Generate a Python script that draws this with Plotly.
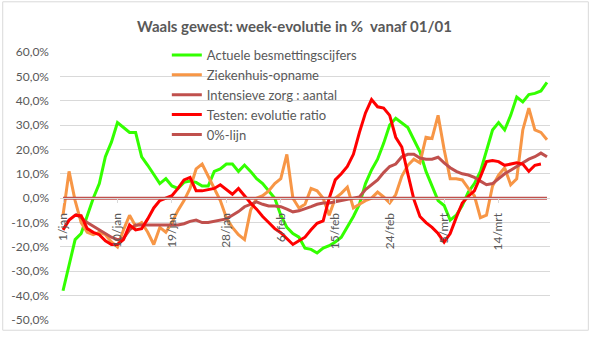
import plotly.graph_objects as go

# ---- categories (dates 1/jan .. 22/mrt) ----
months = [("jan", 31), ("feb", 28), ("mrt", 22)]
categories = [f"{d}/{m}" for m, n in months for d in range(1, n + 1)]
xtick_labels = categories[::9]

# ---- series (percent) ----
besmetting = [-38, -28, -17, -14.5, -7, 0, 6, 17, 23, 31,
              29, 27, 27, 17, 13.5, 10, 6, 8, 5, 4,
              6.5, 7, 6.5, 5, 5, 11, 12, 14, 14, 11,
              13.6, 11, 8, 6, 3, 0, -7, -12, -14.5, -16,
              -20.5, -21, -22.5, -20.5, -19.5, -18, -16, -12, -7.5, -2.5,
              6, 11.6, 16, 22.5, 30, 32.8, 31, 29, 24, 19,
              11, 5, -1, -3, -9, -7, -3, 2.5, 6, 11,
              19, 28, 31, 28, 34, 41.5, 39.5, 42.5, 43, 44,
              47.5]
ziekenhuis = [-7, 11, -1, -10, -14, -15, -14, -15, -18, -20,
              -13, -7, -11.5, -10, -14, -19, -12, -14, -10, -5,
              -1, 4, 12, 14, 9, 4, -1, -8, -12, -15,
              -17, -5, 0, 1, 3, 6, 8, 18, 0, -4,
              -2.5, 4, 3, 0, -7, 0, 2, 4.5, -4, -2.5,
              -1, 0, 2.5, 0.5, -2, 1.5, 9, 13.5, 16, 14.5,
              25, 24.5, 34, 20, 8, 8, 7.5, 4, 1, -8,
              -7, 5, 9.5, 12.5, 5.5, 8, 28, 37, 28, 27,
              24]
intensieve_zorg = [None, None, -6.5, -8, -10, -11.5, -13, -14.5, -16, -17,
                   -16.5, -13, -11, -11, -11, -11, -11, -11, -11, -11,
                   -10.5, -9.5, -9, -10, -10, -9.5, -9.2, -8.5, -7, -5.5,
                   -3.5, -2.5, -1.5, -2.5, -3.2, -3.2, -3.5, -4.5, -5.6, -5.2,
                   -4.5, -3.5, -2.5, -2, -2, -1.5, -1, -0.5, 0, 0.5,
                   3.5, 5.5, 7.5, 10.5, 13, 14, 17, 18, 18, 16.5,
                   16, 16, 16.8, 14.5, 12.5, 11, 10, 9.5, 8.5, 7,
                   5.5, 6, 8, 10, 11.5, 13, 14.5, 16, 17, 18.5,
                   17]
testen = [-13, -9, -7, -7.2, -12.5, -14, -15, -17.5, -19, -19,
          -17, -11, -13, -12.5, -8.5, -4, -1, 0, 1, 4,
          7.5, 8.5, 3, 3, 3.5, 4, 5.5, 3.5, 1.6, 4,
          1, -2, -4.5, -7.5, -10, -12.5, -14.2, -16.5, -19, -17.5,
          -16, -13, -10.3, -9.3, 0, 7.5, 10, 13, 18, 27,
          35, 40.5, 37.5, 37, 34, 25, 21, 10, -0.5, -7.5,
          -10, -12, -14.5, -18, -14.5, -8, -2, 0.8, 3, 8.8,
          15, 15.5, 15, 13.5, 14, 14.5, 14, 11, 13.5, 14,
          None]
nul_lijn = [0] * len(categories)

y_ticks = [60, 50, 40, 30, 20, 10, 0, -10, -20, -30, -40, -50]
y_ticktext = [f"{v:.1f}%".replace(".", ",") for v in y_ticks]

series = [
    ("Actuele besmettingscijfers", besmetting, "#33FF00"),
    ("Ziekenhuis-opname", ziekenhuis, "#F79646"),
    ("Intensieve zorg : aantal", intensieve_zorg, "#C0504D"),
    ("Testen: evolutie ratio", testen, "#FF0000"),
    ("0%-lijn", nul_lijn, "#C0504D"),
]

fig = go.Figure()
for name, vals, col in series:
    fig.add_trace(go.Scatter(x=categories, y=vals, name=name, mode="lines",
                             line=dict(color=col, width=3), connectgaps=False))

grey = "#595959"
fig.update_layout(
    width=589, height=338,
    margin=dict(l=58, r=39, t=52, b=11),
    paper_bgcolor="white", plot_bgcolor="white",
    font=dict(family="Lato", color=grey, size=12),
    title=dict(text="<b>Waals gewest: week-evolutie in %  vanaf 01/01</b>",
               x=0.5, xanchor="center", y=0.922, yanchor="middle",
               font=dict(family="Lato", size=15, color=grey)),
    showlegend=True,
    legend=dict(x=0.218, y=1.045, xanchor="left", yanchor="top",
                bgcolor="rgba(0,0,0,0)", font=dict(size=13, color=grey),
                tracegroupgap=0),
    xaxis=dict(type="category", categoryorder="array", categoryarray=categories,
               range=[-0.5, len(categories) - 0.5],
               tickmode="array", tickvals=xtick_labels, ticktext=xtick_labels,
               tickangle=-90, anchor="free", position=50 / 110,
               showgrid=False, showline=True, linecolor="#D9D9D9", linewidth=1,
               ticks="outside", ticklen=4, tickcolor="#D9D9D9",
               ticklabelstandoff=5,
               tickfont=dict(size=12, color=grey), zeroline=False),
    yaxis=dict(range=[-50, 60], tickmode="array", tickvals=y_ticks,
               ticktext=y_ticktext, showgrid=True, gridcolor="#D9D9D9",
               gridwidth=1, zeroline=False, showline=False,
               ticklabelstandoff=10, tickfont=dict(size=12, color=grey)),
    shapes=[dict(type="rect", xref="paper", yref="paper",
                 x0=(0.5 - 58) / 492, x1=(588.5 - 58) / 492,
                 y0=(327 - 337.5) / 275, y1=(327 - 0.5) / 275,
                 line=dict(color="#D9D9D9", width=1), fillcolor="rgba(0,0,0,0)",
                 layer="below")],
)

fig.write_html("out.html")
